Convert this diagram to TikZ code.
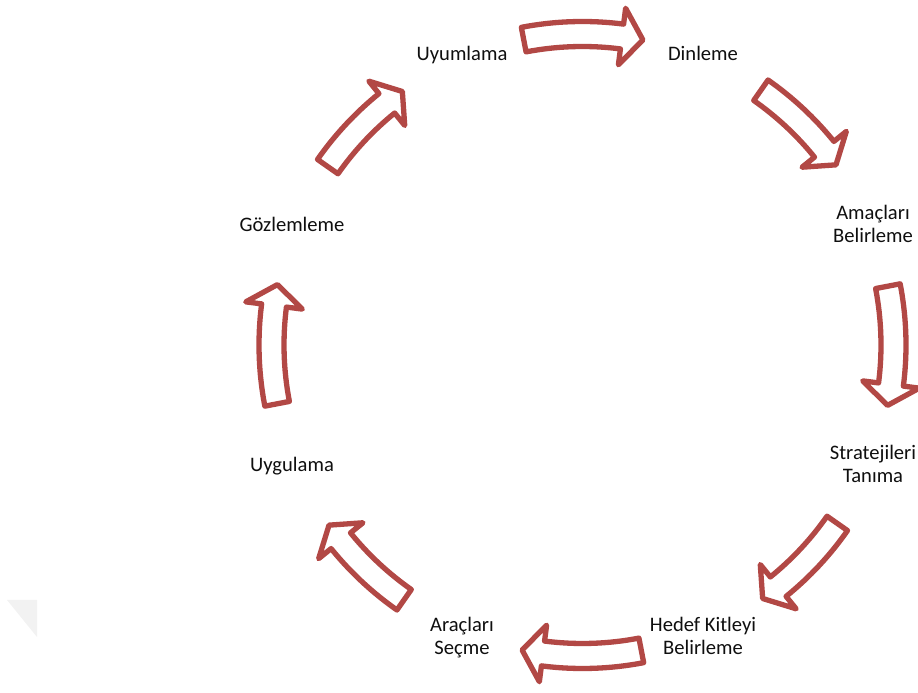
\documentclass[tikz,border=0pt]{standalone}
\usepackage{fontspec}
\setmainfont{Carlito}
\definecolor{arrowred}{RGB}{178,72,69}
\definecolor{labeltext}{RGB}{15,15,15}
\newcommand{\twoline}[2]{\begin{tabular}[t]{@{}c@{}}#1\\#2\end{tabular}}
\begin{document}
\begin{tikzpicture}[x=1pt,y=1pt,
  lbl/.style={font=\fontsize{20.6}{23}\selectfont, inner sep=0pt, anchor=base, text=labeltext},
  cyclearrow/.style={draw=arrowred, fill=white, line width=5.3pt, line join=round}]
\useasboundingbox (0,0) rectangle (918,693);
\fill[black!5] (7,93) -- (37,93) -- (37,56) -- cycle;
\coordinate (ctr) at (582.5,348);
\node[lbl] (uyum) at (462,632) {Uyumlama};
\node[lbl] (dinle) at (703,632) {Dinleme};
\node[lbl] (amac) at (873,473) {\twoline{Amaçları}{Belirleme}};
\node[lbl] (strat) at (873,233) {\twoline{Stratejileri}{Tanıma}};
\node[lbl] (hedef) at (703,61) {\twoline{Hedef Kitleyi}{Belirleme}};
\node[lbl] (arac) at (462,61) {\twoline{Araçları}{Seçme}};
\node[lbl] (uygu) at (292,221) {Uygulama};
\node[lbl] (gozl) at (292,461.5) {Gözlemleme};
\foreach \p/\A/\B/\T in {90/10.9/7.3/11.2, 0/10.9/7.3/11.2, -90/10.9/7.3/11.2, 180/10.9/7.3/11.2, 45/10/6/9.6, -45/10/6/9.6, -135/10/6/9.6, 135/10/6/9.6}{
  \pgfmathsetmacro\ta{\p+\A}
  \pgfmathsetmacro\ba{\p-\B}
  \pgfmathsetmacro\pa{\p-\T}
  \draw[cyclearrow, shift={(ctr)}] (\ta:323.5pt) arc[start angle=\ta, end angle=\ba, radius=323.5pt] -- (\ba:339.5pt) -- (\pa:311pt) -- (\ba:282.5pt) -- (\ba:298.5pt) arc[start angle=\ba, end angle=\ta, radius=298.5pt] -- cycle;
}
\end{tikzpicture}
\end{document}
